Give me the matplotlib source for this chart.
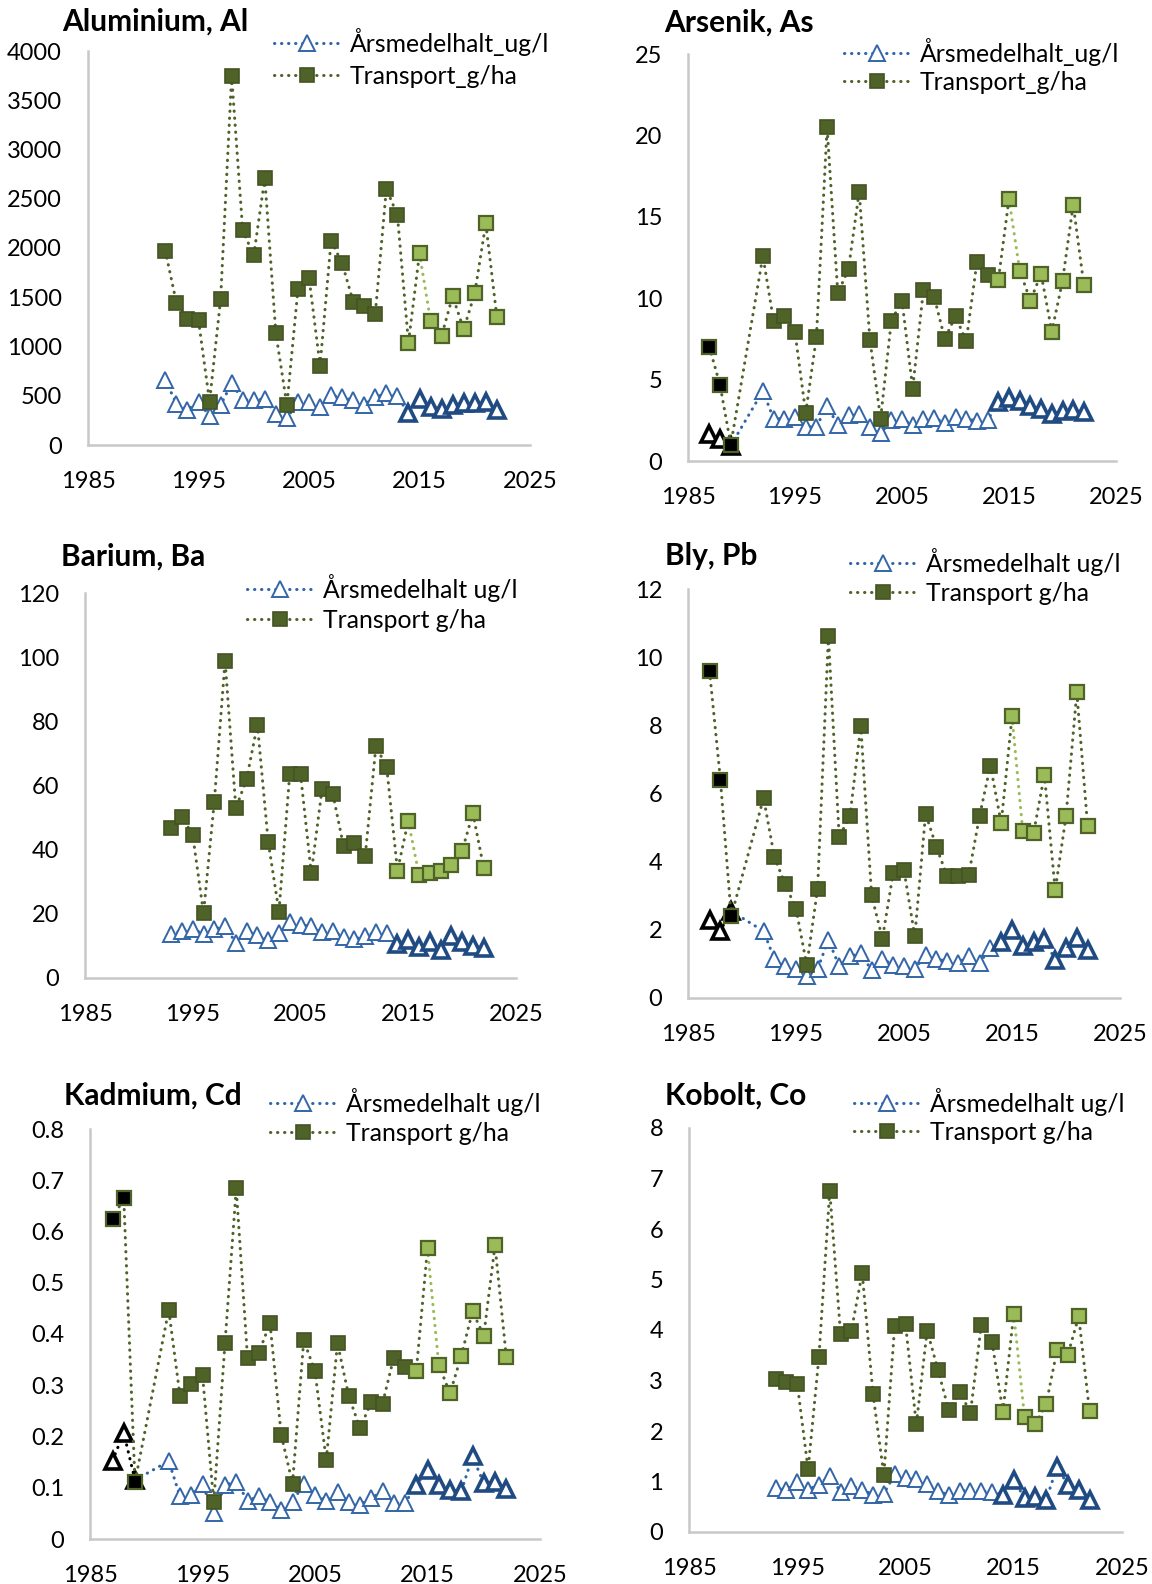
import matplotlib
matplotlib.use('Agg')
import matplotlib.pyplot as plt
from matplotlib.lines import Line2D
from matplotlib.ticker import FuncFormatter
import numpy as np

plt.rcParams['font.family'] = ['Lato', 'DejaVu Sans']

# ---------------- data ----------------
years_al = list(range(1992, 2023))
al_conc = [660, 420, 360, 440, 295, 405, 625, 460, 455, 470, 310, 270, 440, 440, 390,
           505, 485, 455, 410, 485, 525, 495, 320, 470, 390, 370, 405, 425, 425, 440, 355]
al_trans = [1970, 1445, 1280, 1265, 440, 1480, 3745, 2180, 1925, 2710, 1135, 405, 1580, 1700,
            805, 2075, 1845, 1455, 1415, 1335, 2600, 2335, 1040, 1945, 1260, 1110, 1510, 1175,
            1540, 2250, 1300]

years_as = [1987, 1988, 1989] + list(range(1992, 2023))
as_conc = [1.65, 1.35, 0.95, 4.3, 2.6, 2.6, 2.7, 2.1, 2.1, 3.4, 2.2, 2.8, 2.9, 2.1, 1.7, 2.5,
           2.6, 2.2, 2.6, 2.65, 2.35, 2.7, 2.6, 2.45, 2.5, 3.6, 3.9, 3.7, 3.4, 3.2, 2.9, 3.1,
           3.15, 3.0]
as_trans = [7.0, 4.65, 1.0, 12.6, 8.6, 8.9, 7.9, 2.95, 7.6, 20.5, 10.3, 11.8, 16.55, 7.45, 2.6,
            8.6, 9.85, 4.45, 10.5, 10.1, 7.5, 8.9, 7.35, 12.2, 11.4, 11.1, 16.1, 11.7, 9.85,
            11.5, 7.95, 11.05, 15.75, 10.8]

years_ba = list(range(1993, 2023))
ba_conc = [13.7, 14.8, 15.2, 13.8, 15.2, 16.3, 10.9, 14.5, 13.3, 11.7, 14.0, 17.6, 16.6, 16.1,
           14.2, 14.8, 12.7, 12.1, 13.2, 14.2, 14.0, 10.7, 11.7, 9.6, 11.1, 8.6, 13.0, 11.1,
           10.1, 9.3]
ba_trans = [46.7, 50.3, 44.5, 20.2, 55.0, 98.9, 52.9, 62.0, 79.0, 42.5, 20.7, 63.6, 63.6, 32.7,
            58.9, 57.4, 41.0, 42.2, 37.9, 72.3, 65.7, 33.5, 49.0, 32.1, 32.7, 33.2, 35.3, 39.7,
            51.3, 34.4]

years_pb = [1987, 1988, 1989] + list(range(1992, 2023))
pb_conc = [2.30, 1.98, 2.55, 1.96, 1.14, 0.93, 0.85, 0.64, 0.85, 1.71, 0.93, 1.22, 1.32, 0.81,
           1.14, 0.98, 0.93, 0.85, 1.27, 1.14, 1.08, 1.03, 1.24, 1.03, 1.47, 1.63, 1.99, 1.52,
           1.63, 1.73, 1.12, 1.47, 1.76, 1.42]
pb_trans = [9.58, 6.41, 2.40, 5.87, 4.13, 3.34, 2.62, 0.96, 3.21, 10.61, 4.72, 5.35, 7.99, 3.01,
            1.74, 3.67, 3.75, 1.81, 5.41, 4.43, 3.57, 3.59, 3.62, 5.35, 6.82, 5.13, 8.26, 4.89,
            4.84, 6.55, 3.16, 5.33, 8.97, 5.06]

years_cd = [1987, 1988, 1989] + list(range(1992, 2023))
cd_conc = [0.153, 0.207, 0.115, 0.152, 0.083, 0.086, 0.107, 0.050, 0.105, 0.112, 0.075, 0.083,
           0.072, 0.057, 0.073, 0.107, 0.085, 0.075, 0.092, 0.072, 0.067, 0.080, 0.093, 0.070,
           0.070, 0.105, 0.135, 0.105, 0.096, 0.093, 0.161, 0.109, 0.112, 0.098]
cd_trans = [0.624, 0.665, 0.111, 0.447, 0.279, 0.303, 0.320, 0.072, 0.382, 0.684, 0.354, 0.363,
            0.421, 0.203, 0.108, 0.388, 0.327, 0.154, 0.382, 0.279, 0.216, 0.267, 0.264, 0.354,
            0.336, 0.327, 0.567, 0.340, 0.284, 0.357, 0.444, 0.397, 0.573, 0.356]

years_co = list(range(1993, 2023))
co_conc = [0.87, 0.84, 0.99, 0.84, 0.94, 1.11, 0.80, 0.91, 0.84, 0.74, 0.76, 1.14, 1.06, 1.04,
           0.95, 0.81, 0.73, 0.82, 0.82, 0.81, 0.80, 0.73, 1.02, 0.68, 0.69, 0.64, 1.29, 0.93,
           0.84, 0.64]
co_trans = [3.03, 2.98, 2.94, 1.24, 3.46, 6.76, 3.92, 3.99, 5.13, 2.73, 1.13, 4.08, 4.12, 2.13,
            3.99, 3.21, 2.41, 2.78, 2.36, 4.10, 3.76, 2.38, 4.32, 2.27, 2.13, 2.54, 3.60, 3.51,
            4.27, 2.39]

titles = ["Aluminium, Al", "Arsenik, As", "Barium, Ba", "Bly, Pb", "Kadmium, Cd", "Kobolt, Co"]
conc_labels = ["Årsmedelhalt_ug/l", "Årsmedelhalt_ug/l", "Årsmedelhalt ug/l",
               "Årsmedelhalt ug/l", "Årsmedelhalt ug/l", "Årsmedelhalt ug/l"]
trans_labels = ["Transport_g/ha", "Transport_g/ha", "Transport g/ha",
                "Transport g/ha", "Transport g/ha", "Transport g/ha"]
y_max = [4000, 25, 120, 12, 0.8, 8]
y_step = [500, 5, 20, 2, 0.1, 1]
x_ticks = [1985, 1995, 2005, 2015, 2025]

# ---------------- style ----------------
W, H = 1152, 1584
GREEN = '#4F6228'
GREEN_EDGE = '#435322'
LIGHT = '#9BBB59'
BLUE_LINE = '#2E64A8'
BLUE_THIN = '#3366A8'
BLUE_DARK = '#1F4A82'
SPINE = '#C8C8C8'
DOT = (0, (0.1, 2.2))
LW = 2.2
TICK_FS = 17
LEG_FS = 17.8
TITLE_FS = 21.5

# axes boxes in pixels: left, top, right, bottom
boxes = [(88, 51, 530, 445), (688, 54, 1116, 461),
         (85, 593, 516, 978), (688, 589, 1120, 998),
         (90, 1129, 540, 1539), (689, 1128, 1122, 1532)]
title_pos = [(62, 31), (664, 32), (61, 566), (665, 565), (64, 1105), (665, 1105)]
# legend: left x of handle, y of first row centre, row pitch (px)
legend_pos = [(274, 42, 32), (844, 52, 28), (247, 588, 30),
              (850, 562, 29), (270, 1102, 29), (854, 1102, 28)]

fig = plt.figure(figsize=(W / 100, H / 100), dpi=100)

panels = [(years_al, al_conc, al_trans), (years_as, as_conc, as_trans),
          (years_ba, ba_conc, ba_trans), (years_pb, pb_conc, pb_trans),
          (years_cd, cd_conc, cd_trans), (years_co, co_conc, co_trans)]


def dotted(ax, x, y, color, z):
    ax.plot(x, y, color=color, ls=DOT, lw=LW, dash_capstyle='round',
            solid_capstyle='round', zorder=z)


def draw(ax, years, conc, trans):
    years = np.asarray(years)
    conc = np.asarray(conc, dtype=float)
    trans = np.asarray(trans, dtype=float)
    early = years < 1990
    mid = (years >= 1990) & (years < 2014)
    rec = years >= 2014
    # concentration lines
    if early.any():
        dotted(ax, years[early], conc[early], 'black', 2)
        s = np.where(~early)[0][0] - 1
    else:
        s = 0
    dotted(ax, years[s:], conc[s:], BLUE_LINE, 2)
    ax.plot(years[early], conc[early], ls='none', marker='^', ms=11.5, mfc='white',
            mec='black', mew=2.6, zorder=3)
    ax.plot(years[mid], conc[mid], ls='none', marker='^', ms=11.5, mfc='white',
            mec=BLUE_THIN, mew=1.4, zorder=3)
    ax.plot(years[rec], conc[rec], ls='none', marker='^', ms=11.5, mfc='white',
            mec=BLUE_DARK, mew=2.6, zorder=3)
    # transport lines (segment 2015-2016 drawn light green)
    i15 = int(np.where(years == 2015)[0][0])
    dotted(ax, years[:i15 + 1], trans[:i15 + 1], GREEN, 4)
    dotted(ax, years[i15:i15 + 2], trans[i15:i15 + 2], LIGHT, 4)
    dotted(ax, years[i15 + 1:], trans[i15 + 1:], GREEN, 4)
    ax.plot(years[early], trans[early], ls='none', marker='s', ms=10, mfc='black',
            mec=GREEN, mew=1.6, zorder=5)
    ax.plot(years[mid], trans[mid], ls='none', marker='s', ms=10, mfc=GREEN,
            mec=GREEN_EDGE, mew=1.2, zorder=5)
    ax.plot(years[rec], trans[rec], ls='none', marker='s', ms=10, mfc=LIGHT,
            mec=GREEN, mew=1.6, zorder=5)


fmt = FuncFormatter(lambda v, p: f'{v:g}')

for i, (yrs, c, t) in enumerate(panels):
    l, tp, r, b = boxes[i]
    ax = fig.add_axes([l / W, 1 - b / H, (r - l) / W, (b - tp) / H])
    draw(ax, yrs, c, t)
    ax.set_xlim(1985, 2025)
    ax.set_ylim(0, y_max[i])
    ax.set_xticks(x_ticks)
    ax.set_yticks(np.arange(0, y_max[i] + y_step[i] / 2, y_step[i]))
    ax.yaxis.set_major_formatter(fmt)
    for side in ('top', 'right'):
        ax.spines[side].set_visible(False)
    for side in ('left', 'bottom'):
        ax.spines[side].set_color(SPINE)
        ax.spines[side].set_linewidth(1.8)
    ax.tick_params(axis='both', length=0, labelsize=TICK_FS, colors='black')
    ax.tick_params(axis='x', pad=18.5)
    ax.tick_params(axis='y', pad=18.7)
    ax.patch.set_visible(False)

    tx, ty = title_pos[i]
    fig.text(tx / W, 1 - ty / H, titles[i], fontsize=TITLE_FS, fontweight='bold',
             ha='left', va='baseline')

    h1 = Line2D([], [], color=BLUE_LINE, ls=DOT, lw=LW, dash_capstyle='round',
                marker='^', ms=11.5, mfc='white', mec=BLUE_THIN, mew=1.4)
    h2 = Line2D([], [], color=GREEN, ls=DOT, lw=LW, dash_capstyle='round',
                marker='s', ms=10, mfc=GREEN, mec=GREEN_EDGE, mew=1.2)
    lx, ly, pitch = legend_pos[i]
    spacing = (pitch / 1.389) / LEG_FS - 0.95
    leg = ax.legend([h1, h2], [conc_labels[i], trans_labels[i]], loc='upper left',
                    bbox_to_anchor=(lx / W, 1 - (ly - 14) / H), bbox_transform=fig.transFigure,
                    frameon=False, fontsize=LEG_FS, borderpad=0, borderaxespad=0,
                    handlelength=2.67, handletextpad=0.4, labelspacing=spacing)
    leg.set_zorder(10)

fig.savefig('out.png', dpi=100)
